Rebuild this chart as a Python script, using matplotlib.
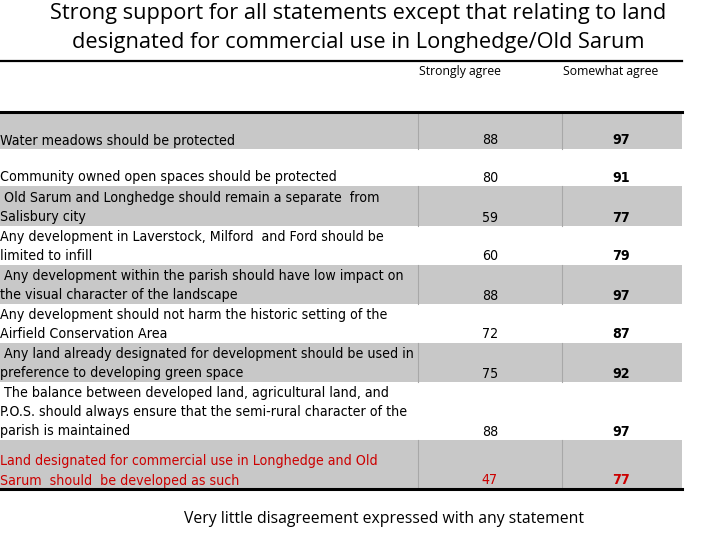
import matplotlib
matplotlib.use('Agg')
from matplotlib import pyplot as plt

# table content
statements = [
    'Water meadows should be protected',
    'Community owned open spaces should be protected',
    ' Old Sarum and Longhedge should remain a separate  from\nSalisbury city',
    'Any development in Laverstock, Milford  and Ford should be\nlimited to infill',
    ' Any development within the parish should have low impact on\nthe visual character of the landscape',
    'Any development should not harm the historic setting of the\nAirfield Conservation Area',
    ' Any land already designated for development should be used in\npreference to developing green space',
    ' The balance between developed land, agricultural land, and\nP.O.S. should always ensure that the semi-rural character of the\nparish is maintained',
    'Land designated for commercial use in Longhedge and Old\nSarum  should  be developed as such',
]
strongly_agree = [88, 80, 59, 60, 88, 72, 75, 88, 47]
somewhat_agree = [97, 91, 77, 79, 97, 87, 92, 97, 77]
columns = ['Strongly agree', 'Somewhat agree']
highlight = 8  # the commercial-use row is in red

title = ('Strong support for all statements except that relating to land\n'
         'designated for commercial use in Longhedge/Old Sarum')
footer = 'Very little disagreement expressed with any statement'

# layout in pixels (figure is 720x540)
row_edges = [112, 149, 186, 226, 265, 304, 343, 382, 440, 489]
col_x = [418, 562, 682]
cell_font = dict(family='DejaVu Sans', stretch='condensed')
grey = '#c8c8c8'
red = '#cc0000'

fig = plt.figure(figsize=(7.2, 5.4), dpi=100)
ax = fig.add_axes([0, 0, 1, 1])
ax.set_xlim(0, 720)
ax.set_ylim(540, 0)
ax.axis('off')

fig.text(0.497, 0.995, title, ha='center', va='top', fontsize=15.7,
         family='Open Sans', linespacing=1.5)

# header
ax.plot([0, col_x[2]], [61, 61], c='black', lw=1.6)
ax.text(460, 71, columns[0], ha='center', va='center', fontsize=8.8, family='Open Sans')
ax.text(611, 71, columns[1], ha='center', va='center', fontsize=8.8, family='Open Sans')

for i, label in enumerate(statements):
    top, bottom = row_edges[i], row_edges[i + 1]
    if i % 2 == 0:
        ax.fill_between([0, col_x[2]], top, bottom, color=grey, lw=0)
        for x in col_x[:2]:
            ax.plot([x, x], [top, bottom], c='#a8a8a8', lw=0.8)
    color = red if i == highlight else 'black'
    base = bottom - 4.5
    ax.text(0, base, label, ha='left', va='baseline', fontsize=10.2,
            color=color, linespacing=1.47, **cell_font)
    ax.text(490, base, str(strongly_agree[i]), ha='center', va='baseline',
            fontsize=10.2, color=color, **cell_font)
    ax.text(621, base, str(somewhat_agree[i]), ha='center', va='baseline',
            fontsize=10.2, color=color, weight='bold', **cell_font)

ax.plot([0, col_x[2]], [row_edges[0], row_edges[0]], c='black', lw=2.2)
ax.plot([0, col_x[2]], [row_edges[-1], row_edges[-1]], c='black', lw=2.2)

ax.text(384, 519, footer, ha='center', va='center', fontsize=11.3, family='Open Sans')

fig.savefig('out.png', dpi=100)
